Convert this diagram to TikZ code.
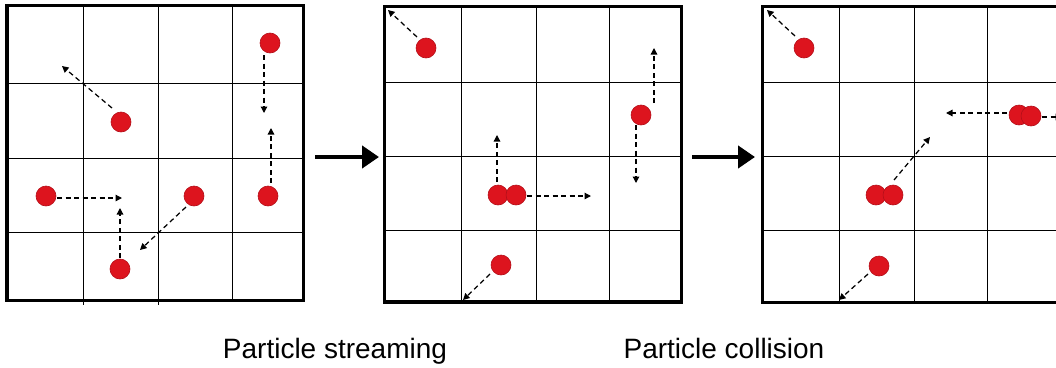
\documentclass[tikz,border=0pt]{standalone}
\usepackage{fontspec}
\setmainfont{Liberation Sans}
\usetikzlibrary{arrows.meta}
\definecolor{ball}{RGB}{221,20,30}
\definecolor{ballrim}{RGB}{180,15,25}

\begin{document}
\begin{tikzpicture}[x=1pt,y=-1pt,
  particle/.style={circle,fill=ball,draw=ballrim,line width=0.6pt,minimum size=20pt,inner sep=0pt},
  frame/.style={line width=3.5pt},
  gridline/.style={line width=1pt},
  move/.style={dash pattern=on 5pt off 3.5pt,line width=1.25pt,-{Triangle[length=6.5pt,width=6.5pt]}},
  stepto/.style={line width=4.5pt,-{Triangle[length=17pt,width=22pt]}},
  caption/.style={font=\fontsize{28}{32}\selectfont,anchor=base,inner sep=0pt}]

\useasboundingbox (0,0) rectangle (1056,367);

% ---------- lattice 1: before streaming ----------
\draw[gridline] (83,5.5) -- (83,305) (158,5.5) -- (158,305) (232,5.5) -- (232,300.5);
\draw[gridline] (7,83) -- (303.5,83) (7,158) -- (303.5,158) (7,232) -- (303.5,232);
\draw[frame] (7,5.5) rectangle (303.5,300.5);

\node[particle] (a1) at (270,43) {};
\node[particle] (a2) at (121,122) {};
\node[particle] (a3) at (46,196) {};
\node[particle] (a4) at (194,196) {};
\node[particle] (a5) at (268,196) {};
\node[particle] (a6) at (120,269) {};

\coordinate (a1s) at (264,55);  \coordinate (a1t) at (264,113);
\coordinate (a2s) at (112,108); \coordinate (a2t) at (62,66);
\coordinate (a3s) at (57,198);  \coordinate (a3t) at (122,198);
\coordinate (a4s) at (186,207); \coordinate (a4t) at (140,250);
\coordinate (a5s) at (271,183); \coordinate (a5t) at (271,128);
\coordinate (a6s) at (120,258); \coordinate (a6t) at (120,208);
\foreach \p in {a1,a2,a3,a4,a5,a6} \draw[move] (\p s) -- (\p t);

% ---------- lattice 2: after streaming ----------
\draw[gridline] (461,6.7) -- (461,302) (536,6.7) -- (536,302) (609.7,6.7) -- (609.7,302);
\draw[gridline] (384.3,82.3) -- (681.7,82.3) (384.3,156) -- (681.7,156) (384.3,230) -- (681.7,230);
\draw[frame] (384.3,6.7) rectangle (681.7,302);

\node[particle] (b1) at (426,48) {};
\node[particle] (b2) at (498,195) {};
\node[particle] (b3) at (516,195) {};
\node[particle] (b4) at (641,115) {};
\node[particle] (b5) at (501,265) {};

\coordinate (b1s) at (417,37);  \coordinate (b1t) at (388,10);
\coordinate (b2s) at (497,182); \coordinate (b2t) at (497,135);
\coordinate (b3s) at (527,196); \coordinate (b3t) at (591,196);
\coordinate (b4s) at (654,103); \coordinate (b4t) at (654,48);
\coordinate (b6s) at (636,125); \coordinate (b6t) at (636,183);
\coordinate (b5s) at (490,274); \coordinate (b5t) at (463,300);
\foreach \p in {b1,b2,b3,b4,b5,b6} \draw[move] (\p s) -- (\p t);

% ---------- lattice 3: after collision ----------
\draw[gridline] (839,6.7) -- (839,302.7) (914,6.7) -- (914,302.7) (987.3,6.7) -- (987.3,302.7);
\draw[gridline] (762.7,82.7) -- (1062,82.7) (762.7,156.7) -- (1062,156.7) (762.7,230.7) -- (1062,230.7);
\draw[frame] (762.7,6.7) rectangle (1062,302.7);

\node[particle] (c1) at (804,48) {};
\node[particle] (c2) at (876,195) {};
\node[particle] (c3) at (893,195) {};
\node[particle] (c4) at (1019,115) {};
\node[particle] (c5) at (1031,116) {};
\node[particle] (c6) at (879,266) {};

\coordinate (c1s) at (795,36);   \coordinate (c1t) at (767,10);
\coordinate (c3s) at (894,180);  \coordinate (c3t) at (930,137);
\coordinate (c4s) at (1007,113); \coordinate (c4t) at (946,113);
\coordinate (c5s) at (1042,117); \coordinate (c5t) at (1062,117);
\coordinate (c6s) at (868,274);  \coordinate (c6t) at (839,300);
\foreach \p in {c1,c3,c4,c5,c6} \draw[move] (\p s) -- (\p t);

% ---------- step arrows ----------
\coordinate (s1a) at (315,157); \coordinate (s1b) at (379,157);
\coordinate (s2a) at (692,157); \coordinate (s2b) at (755,157);
\draw[stepto] (s1a) -- (s1b);
\draw[stepto] (s2a) -- (s2b);

% ---------- captions ----------
\node[caption] (cap1) at (335,358) {Particle streaming};
\node[caption] (cap2) at (724,358) {Particle collision};
\end{tikzpicture}
\end{document}
